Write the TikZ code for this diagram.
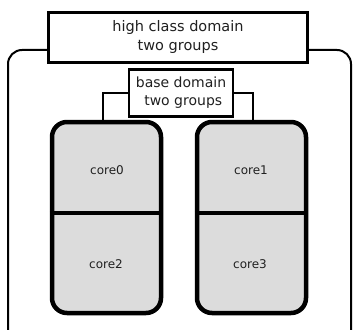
\documentclass[tikz,border=0pt]{standalone}
\usepackage{fontspec}
\setmainfont{DejaVu Sans}
\usetikzlibrary{positioning}

\definecolor{coregray}{HTML}{DCDCDC}
\definecolor{txt}{HTML}{202020}

\tikzset{
  domainbox/.style={draw,fill=white,text=txt,align=center,inner sep=0pt},
  groupbox/.style={draw,fill=coregray,rounded corners=15,line width=4.5,
    minimum width=109,minimum height=191,inner sep=0pt},
  corelbl/.style={text=txt,font=\fontsize{12}{14}\selectfont}
}

\begin{document}
\begin{tikzpicture}[x=1pt,y=-1pt]
\clip (0,0) rectangle (353,329);
% outer frame, runs off the bottom and the right
\draw[line width=2,rounded corners=14] (8,345) rectangle (351,50);
\node[domainbox,line width=3,minimum width=259,minimum height=50,
      font=\fontsize{14.5}{19}\selectfont] (high) at (178,37.5)
      {high class domain\\two groups};
% the two groups
\node[groupbox] (group0) at (106.5,217.5) {};
\node[groupbox] (group1) at (251.5,217.5) {};
\draw[line width=4.5] (group0.west |- 0,213) -- (group0.east |- 0,213);
\draw[line width=4.5] (group1.west |- 0,213) -- (group1.east |- 0,213);
\node[corelbl] (core0) at (107,170) {core0};
\node[corelbl] (core2) at (106,264) {core2};
\node[corelbl] (core1) at (251,170) {core1};
\node[corelbl] (core3) at (250,264) {core3};
% base domain and its links
\node[domainbox,line width=2.5,minimum width=104,minimum height=47,
      font=\fontsize{14}{18}\selectfont] (base) at (181,93)
      {base domain\\\ two groups};
\draw[line width=2] (base.west) -| ([xshift=-3.5]group0.north);
\draw[line width=2] (base.east) -| ([xshift=1.5]group1.north);
\end{tikzpicture}
\end{document}
